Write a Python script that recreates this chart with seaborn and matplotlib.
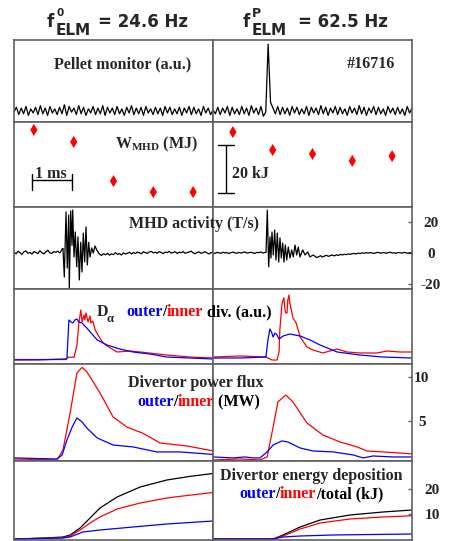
import numpy as np
import matplotlib
matplotlib.use("Agg")
import matplotlib.pyplot as plt
import seaborn as sns

# ---------------- data (time in ms within each 5 ms window) ----------------
pellet_left = [0.12,0.18,0.09,0.17,0.10,0.19,0.08,0.16,0.11,0.18,0.09,0.20,0.10,0.17,0.08,0.19,0.11,0.16,0.09,0.18,
               0.10,0.21,0.08,0.19,0.12,0.17,0.09,0.20,0.10,0.18,0.08,0.16,0.11,0.19,0.09,0.17,0.10,0.20,0.08,0.18,
               0.11,0.17,0.09,0.19,0.10,0.16,0.08,0.18,0.11,0.20,0.09,0.17,0.10,0.18,0.08,0.19,0.11,0.16,0.09,0.18,
               0.10,0.17,0.08,0.19,0.11,0.18,0.09,0.16,0.10,0.18,0.08,0.17,0.11,0.19,0.09,0.18,0.10,0.16,0.08,0.19,
               0.11,0.17,0.09,0.15]
pellet_right = [0.15,0.10,0.18,0.09,0.17,0.11,0.19,0.08,0.18,0.10,0.16,0.09,0.19,0.10,0.17,0.08,0.20,0.11,0.17,0.09,
                0.19,0.07,0.12,0.95,0.24,0.17,0.10,0.19,0.09,0.18,0.10,0.17,0.08,0.19,0.11,0.18,0.09,0.16,0.10,0.19,
                0.08,0.18,0.11,0.17,0.09,0.20,0.10,0.18,0.08,0.17,0.11,0.19,0.09,0.18,0.10,0.16,0.08,0.19,0.11,0.17,
                0.09,0.20,0.10,0.18,0.08,0.17,0.11,0.19,0.09,0.18,0.10,0.16,0.08,0.19,0.11,0.17,0.09,0.18,0.10,0.16,
                0.08,0.19,0.11,0.17]

wmhd_t = [0.5, 1.5, 2.5, 3.5, 4.5]
wmhd_left = [0.5967, 0.5917, 0.5754, 0.5708, 0.5708]
wmhd_right = [0.5958, 0.5883, 0.5867, 0.5838, 0.5858]

mhd_left_base = [0.6,-0.5,1.1,0.2,-0.9,0.8,1.3,-0.2,0.4,-0.7,0.9,0.3,-0.4,1.5,0.2,-0.6,0.7,1.8,0.1,-0.3,0.9,0.4,1.2,0.0,2.0,
                 0,0,0,0,0,0,0,0,0,0,0,0,0,0,0,0,0,0,
                 -0.8,-1.6,-0.5,-1.2,-0.3,-1.4,-0.6,-1.1,0.2,-0.9,-0.4,-1.3,0.1,-0.7,-0.2,0.5,-0.6,0.3,-0.4,0.6,
                 0.1,-0.5,0.8,0.2,-0.3,0.7,1.0,0.1,0.5,-0.2,0.9,0.3,-0.4,0.6,0.2,1.1,-0.1,0.4,0.8,-0.3,
                 0.5,0.2,0.9,-0.2,0.3,0.6,1.2,0.1,-0.5,0.4,0.7,-0.2,0.3,0.8,0.0,-0.6,0.2,0.5]
mhd_left_burst_t = [1.206,1.231,1.264,1.307,1.339,1.374,1.389,1.425,1.457,1.475,1.508,1.540,1.575,1.608,1.641,1.676,
                    1.709,1.741,1.776,1.809,1.842,1.877,1.910,1.952,1.992,2.035,2.078,2.143]
mhd_left_burst_v = [2.5,3.0,-15.7,26.8,-9.8,24.8,-23.5,27.5,5.0,28.0,-2.6,13.7,-9.0,10.5,-17.6,7.0,-12.4,13.0,-5.9,
                    17.0,-7.8,7.0,-2.6,3.3,0.0,4.6,2.0,-0.6]
mhd_right_base = [0.2,-0.3,0.4,0.1,-0.2,0.5,0.0,0.3,-0.4,0.2,0.6,0.1,-0.2,0.4,0.0,0.3,0.7,-0.1,0.2,0.5,0.1,-0.3,0.4,0.2,0.6,0.0,0.3,
                  0,0,0,0,0,0,0,0,0,0,0,0,0,0,0,0,0,0,0,0,0,0,0,0,0,0,
                  -2.5,-1.8,-2.6,-2.0,-1.5,-2.2,-1.7,-1.3,-1.9,-1.2,-1.6,-0.9,-1.3,-0.8,-1.1,-0.6,-0.9,-0.5,
                  -0.3,-0.6,-0.1,-0.4,0.1,-0.2,0.2,-0.1,0.3,0.0,-0.3,0.2,0.4,-0.1,0.1,0.3,-0.2,0.2,0.5,0.0,
                  0.1,-0.2,0.3,0.2,-0.1,0.4,0.1,-0.2,0.2,0.0]
mhd_right_burst_t = [1.332,1.364,1.399,1.432,1.457,1.482,1.515,1.550,1.583,1.616,1.651,1.683,1.716,1.751,1.784,1.817,
                     1.852,1.892,1.935,1.977,2.018,2.060,2.103,2.143,2.186,2.254,2.312,2.379,2.437,2.520,2.605]
mhd_right_burst_v = [0.3,28.0,-9.0,10.5,-3.3,13.7,-1.3,15.0,-4.6,13.0,-5.9,9.8,-3.3,6.5,-5.9,5.2,-4.6,3.9,-3.3,2.0,
                     -2.6,5.2,-1.3,3.9,-2.6,2.0,-1.3,0.7,-2.6,-1.3,-3.0]

da_left_outer_t = [0,0.65,1.31,1.33,1.38,1.43,1.48,1.53,1.58,1.63,1.71,1.83,1.96,2.09,2.34,2.66,2.99,3.42,3.84,4.42,5.0]
da_left_outer = [0.053,0.055,0.067,0.08,0.587,0.56,0.547,0.587,0.60,0.56,0.547,0.48,0.40,0.32,0.253,0.20,0.16,0.133,0.093,0.08,0.067]
da_left_inner_t = [0,1.31,1.36,1.51,1.58,1.63,1.68,1.71,1.76,1.78,1.81,1.86,1.91,1.93,1.98,2.04,2.11,2.24,2.34,2.59,
                   2.91,3.17,3.84,4.42,5.0]
da_left_inner = [0.06,0.06,0.09,0.09,0.25,0.547,0.72,0.56,0.653,0.587,0.68,0.56,0.64,0.547,0.573,0.453,0.387,0.28,0.24,0.16,
                 0.173,0.16,0.12,0.093,0.08]
da_right_outer_t = [0,0.68,1.33,1.38,1.43,1.48,1.51,1.56,1.61,1.66,1.76,1.93,2.19,2.44,2.69,3.12,3.69,4.27,5.0]
da_right_outer = [0.08,0.08,0.093,0.32,0.467,0.413,0.36,0.413,0.387,0.333,0.373,0.40,0.373,0.32,0.253,0.16,0.12,0.093,0.08]
da_right_inner_t = [0,0.68,1.33,1.48,1.61,1.66,1.68,1.73,1.76,1.78,1.81,1.83,1.86,1.88,1.91,1.93,2.01,2.09,2.19,2.36,
                    2.51,2.76,3.12,3.37,3.69,4.12,4.37,4.70,5.0]
da_right_inner = [0.093,0.107,0.093,0.053,0.053,0.16,0.453,0.787,0.853,0.88,0.72,0.68,0.68,0.853,0.92,0.813,0.613,0.547,0.36,0.227,
                  0.187,0.147,0.20,0.16,0.147,0.147,0.173,0.16,0.16]

pf_left_inner_t = [0,1.08,1.23,1.41,1.58,1.71,1.83,2.16,2.49,2.84,3.24,3.67,4.35,5.0]
pf_left_inner = [0.68,0.57,1.70,5.9,10.45,11.1,10.6,8.2,5.45,4.3,3.6,2.5,2.16,1.6]
pf_left_outer_t = [0,1.08,1.21,1.33,1.46,1.58,1.71,1.83,2.09,2.49,2.99,3.59,4.17,5.0]
pf_left_outer = [0.8,0.68,1.14,2.84,4.3,5.34,4.9,4.2,3.07,2.27,2.05,1.48,1.48,1.2]
pf_right_inner_t = [0,0.68,1.18,1.36,1.51,1.63,1.83,2.01,2.36,2.76,3.19,3.62,3.87,4.27,4.70,5.0]
pf_right_inner = [0.57,0.68,0.57,0.91,4.3,7.16,7.95,7.16,4.77,3.41,2.61,2.05,1.59,1.48,1.36,1.25]
pf_right_outer_t = [0,0.5,0.8,1.0,1.18,1.36,1.51,1.73,1.88,2.19,2.51,3.02,3.52,3.77,4.02,4.52,5.0]
pf_right_outer = [0.91,0.8,0.91,0.8,0.8,1.48,2.27,2.73,2.61,1.93,1.59,1.48,1.14,0.8,1.02,0.91,0.91]

en_left_t = [0,0.8,1.23,1.41,1.66,1.91,2.16,2.59,3.17,3.84,4.4,5.0]
en_left_total = [0,0.4,0.8,1.6,4.4,8.4,12.4,16.8,20.8,23.6,25.0,26.2]
en_left_inner = [0,0.3,0.5,1.2,3.6,6.4,8.8,12.0,14.4,16.4,17.5,18.6]
en_left_outer_t = [0,0.8,1.23,1.41,1.73,2.16,2.99,3.84,5.0]
en_left_outer = [0,0.3,0.4,0.8,2.8,3.6,4.8,6.0,7.2]
en_right_t = [0,1.51,1.76,2.19,2.69,3.44,4.27,5.0]
en_right_total = [0,0,1.6,4.8,7.6,9.6,10.8,11.6]
en_right_inner = [0,0,1.2,4.0,6.4,8.0,8.8,9.3]
en_right_outer_t = [0,1.51,1.76,2.19,3.02,5.0]
en_right_outer = [0,0,0.8,1.2,1.6,2.0]

mhd_ticks = [-20, 0, 20]
pf_ticks = [5, 10]
en_ticks = [10, 20]

# ---------------- style ----------------
sns.set_style("white")
plt.rcParams["font.family"] = ["Liberation Serif", "DejaVu Serif"]
plt.rcParams["mathtext.fontset"] = "custom"
plt.rcParams["mathtext.rm"] = "Liberation Serif"
plt.rcParams["mathtext.bf"] = "Liberation Serif:bold"
plt.rcParams["mathtext.it"] = "Liberation Serif:italic"

W, H = 452, 541
fig = plt.figure(figsize=(W / 100, H / 100), dpi=100)
FRAME = "#606060"
BLUE, RED = "#0000ff", "#ff0000"

rows = [(40, 122), (122, 207), (207, 289), (289, 364), (364, 461), (461, 540)]
cols = [(14, 213), (213, 412)]
ylims = [(0, 1), (0.5646, 0.600), (-23.5, 30), (0, 1), (0.45, 11.48), (-0.4, 31.2)]
axes = []
for i, (y0, y1) in enumerate(rows):
    r = []
    for j, (x0, x1) in enumerate(cols):
        ax = fig.add_axes([x0 / W, 1 - y1 / H, (x1 - x0) / W, (y1 - y0) / H])
        ax.set_xlim(0, 5)
        ax.set_ylim(*ylims[i])
        ax.set_xticks([])
        ax.set_yticks([])
        for s in ax.spines.values():
            s.set_color(FRAME)
            s.set_linewidth(1.2)
        r.append(ax)
    axes.append(r)


def line(ax, t, v, color, lw=0.9):
    sns.lineplot(x=np.asarray(t, float), y=np.asarray(v, float), ax=ax, color=color,
                 linewidth=lw, estimator=None, sort=False)


# row 0 pellet
line(axes[0][0], np.linspace(0, 5, len(pellet_left)), pellet_left, "k", 0.9)
line(axes[0][1], np.linspace(0, 5, len(pellet_right)), pellet_right, "k", 0.9)

# row 1 W_MHD
for ax, vals in [(axes[1][0], wmhd_left), (axes[1][1], wmhd_right)]:
    sns.scatterplot(x=wmhd_t, y=vals, ax=ax, marker="d", s=38, color=RED, edgecolor="none")
# scale bars
axl = axes[1][0]
axl.plot([0.45, 1.45], [0.5758, 0.5758], color="k", lw=1)
axl.plot([0.45, 0.45], [0.5717, 0.5783], color="k", lw=1)
axl.plot([1.45, 1.45], [0.5717, 0.5783], color="k", lw=1)
axr = axes[1][1]
axr.plot([0.33, 0.33], [0.5704, 0.5904], color="k", lw=1)
axr.plot([0.12, 0.52], [0.5704, 0.5704], color="k", lw=1)
axr.plot([0.12, 0.52], [0.5904, 0.5904], color="k", lw=1)


# row 2 MHD
def merge(base, bt, bv):
    tb = np.linspace(0, 5, len(base))
    base = np.asarray(base, float)
    m = (tb < bt[0]) | (tb > bt[-1])
    t = np.concatenate([tb[m], bt])
    v = np.concatenate([base[m], bv])
    o = np.argsort(t)
    return t[o], v[o]


t, v = merge(mhd_left_base, mhd_left_burst_t, mhd_left_burst_v)
line(axes[2][0], t, v, "k", 0.9)
t, v = merge(mhd_right_base, mhd_right_burst_t, mhd_right_burst_v)
line(axes[2][1], t, v, "k", 0.9)

# row 3 D-alpha
line(axes[3][0], da_left_inner_t, da_left_inner, RED)
line(axes[3][0], da_left_outer_t, da_left_outer, BLUE)
line(axes[3][1], da_right_inner_t, da_right_inner, RED)
line(axes[3][1], da_right_outer_t, da_right_outer, BLUE)

# row 4 power flux
line(axes[4][0], pf_left_inner_t, pf_left_inner, RED)
line(axes[4][0], pf_left_outer_t, pf_left_outer, BLUE)
line(axes[4][1], pf_right_inner_t, pf_right_inner, RED)
line(axes[4][1], pf_right_outer_t, pf_right_outer, BLUE)

# row 5 energy
line(axes[5][0], en_left_t, en_left_total, "k")
line(axes[5][0], en_left_t, en_left_inner, RED)
line(axes[5][0], en_left_outer_t, en_left_outer, BLUE)
line(axes[5][1], en_right_t, en_right_total, "k")
line(axes[5][1], en_right_t, en_right_inner, RED)
line(axes[5][1], en_right_outer_t, en_right_outer, BLUE)

# right-side ticks
for i, ticks, pad in [(2, mhd_ticks, 13.7), (4, pf_ticks, 7.0), (5, en_ticks, 14.4)]:
    ax = axes[i][1]
    ax.yaxis.tick_right()
    ax.set_yticks(ticks, labels=[str(k) for k in ticks], fontweight="bold", ha="center", fontsize=11)
    ax.tick_params(axis="y", direction="in", length=3, width=1, color=FRAME, pad=pad)

# ---------------- text overlay ----------------
ov = fig.add_axes([0, 0, 1, 1], zorder=10)
ov.set_xlim(0, W)
ov.set_ylim(H, 0)
ov.axis("off")

SANS = "DejaVu Sans"
ov.text(47, 27, "f", family=SANS, weight="bold", size=12)
ov.text(57, 16, "0", family=SANS, weight="bold", size=7.5)
ov.text(56, 35, "ELM", family=SANS, weight="bold", size=11)
ov.text(98, 27, "= 24.6 Hz", family=SANS, weight="bold", size=12)
ov.text(243, 27, "f", family=SANS, weight="bold", size=12)
ov.text(252, 17, "P", family=SANS, weight="bold", size=9)
ov.text(252, 35, "ELM", family=SANS, weight="bold", size=11)
ov.text(298, 27, "= 62.5 Hz", family=SANS, weight="bold", size=12)

FS = 11.5
kw = dict(weight="bold", size=FS)
ov.text(123, 68, "Pellet monitor (a.u.)", ha="center", **kw)
ov.text(395, 68, "#16716", ha="right", **kw)
ov.text(115, 148, r"W$_{\mathbf{MHD}}$ (MJ)", ha="left", **kw)
ov.text(51, 178, "1 ms", ha="center", **kw)
ov.text(232, 178, "20 kJ", ha="left", **kw)
ov.text(194, 228, "MHD activity (T/s)", ha="center", **kw)
ov.text(97, 316, "D", ha="left", **kw)
ov.text(107, 322, "α", ha="left", weight="bold", size=9)
ov.text(196, 387, "Divertor power flux", ha="center", **kw)
ov.text(311, 480, "Divertor energy deposition", ha="center", **kw)


def chain(x, y, parts):
    t = ov.text(x, y, parts[0][0], color=parts[0][1], ha="left", **kw)
    for s, c in parts[1:]:
        t = ov.annotate(s, xy=(1, 0), xycoords=t, ha="left", va="bottom", color=c, **kw)


chain(126, 316, [("outer", BLUE), ("/", "k"), ("inner", RED), (" div. (a.u.)", "k")])
chain(137, 406, [("outer", BLUE), ("/", "k"), ("inner", RED), (" (MW)", "k")])
chain(239, 498, [("outer", BLUE), ("/", "k"), ("inner", RED), ("/total (kJ)", "k")])

fig.savefig("out.png", dpi=100)
